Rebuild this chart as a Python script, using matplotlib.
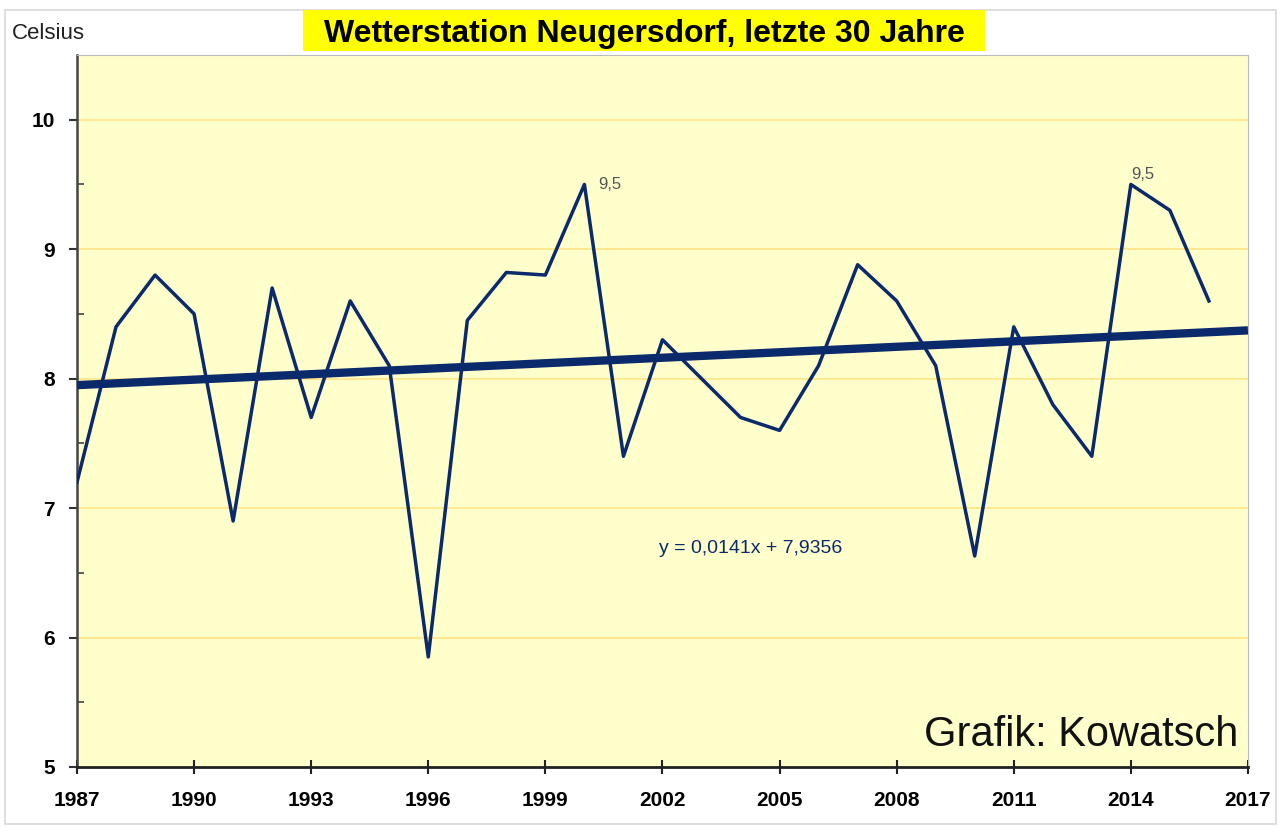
import matplotlib.pyplot as plt
import numpy as np
from matplotlib.patches import Rectangle

# Jahresmittel Neugersdorf
years = np.arange(1987, 2017)
temps = [7.2, 8.4, 8.8, 8.5, 6.9, 8.7, 7.7, 8.6, 8.1, 5.85,
         8.45, 8.82, 8.8, 9.5, 7.4, 8.3, 8.0, 7.7, 7.6, 8.1,
         8.88, 8.6, 8.1, 6.63, 8.4, 7.8, 7.4, 9.5, 9.3, 8.6]
trend_slope = 0.0141
trend_icept = 7.9356
x_ticks = np.arange(1987, 2018, 3)
y_ticks = [5, 6, 7, 8, 9, 10]
peak_labels = [(2000, 9.5, '9,5'), (2014, 9.5, '9,5')]

navy = '#0b2a6b'
plt.rcParams['font.family'] = ['Liberation Sans', 'DejaVu Sans']

fig = plt.figure(figsize=(12.81, 8.27), dpi=100)
ax = fig.add_axes([0.0601, 0.0726, 0.9141, 0.8609])
ax.set_facecolor('#ffffcc')

# Rahmen um die ganze Grafik
fig.patches.append(Rectangle((0.004, 0.004), 0.992, 0.984, transform=fig.transFigure,
                             fill=False, edgecolor='#d8d8d8', linewidth=1.2))
# gelber Titelkasten
fig.patches.append(Rectangle((0.2365, 0.9385), 0.5324, 0.0494, transform=fig.transFigure,
                             facecolor='#ffff00', edgecolor='none'))

for yv in y_ticks[1:]:
    ax.axhline(yv, color='#ffe68a', linewidth=1.3, zorder=1)

# Trendlinie
tx = np.array([1987, 2017])
ty = trend_icept + trend_slope * (tx - 1986)
ax.plot(tx, ty, color=navy, linewidth=6, solid_capstyle='butt', zorder=3)

ax.plot(years, temps, color=navy, linewidth=2.5, zorder=4)

ax.text(2000.35, 9.5, peak_labels[0][2], color='#555555', fontsize=12,
        ha='left', va='center')
ax.text(2014.0, 9.52, peak_labels[1][2], color='#555555', fontsize=12,
        ha='left', va='bottom')

ax.text(2004.25, 6.69, 'y = 0,0141x + 7,9356', color=navy, fontsize=14,
        ha='center', va='center')
ax.text(2016.75, 5.25, 'Grafik: Kowatsch', color='#111111', fontsize=30,
        ha='right', va='center')

ax.set_xlim(1987, 2017)
ax.set_ylim(5, 10.5)
ax.set_xticks(x_ticks)
ax.set_yticks(y_ticks)
ax.set_yticks(np.arange(5.5, 10.5, 1.0), minor=True)
ax.tick_params(axis='x', which='major', direction='inout', length=10,
               width=1.5, labelsize=15, color='#222222', pad=12)
ax.tick_params(axis='y', which='major', direction='out', length=6,
               width=1.5, labelsize=15, color='#333333', pad=10)
ax.tick_params(axis='y', which='minor', direction='in', length=5, width=1.2,
               color='#444444')
for lab in ax.get_xticklabels() + ax.get_yticklabels():
    lab.set_fontweight('bold')

ax.spines['left'].set_color('#444444')
ax.spines['left'].set_linewidth(1.8)
ax.spines['bottom'].set_color('#222222')
ax.spines['bottom'].set_linewidth(2)
ax.spines['top'].set_color('#bbbbbb')
ax.spines['right'].set_color('#bbbbbb')

fig.text(0.009, 0.96, 'Celsius', fontsize=16, color='#222222', ha='left', va='center')
fig.text(0.5027, 0.959, 'Wetterstation Neugersdorf, letzte 30 Jahre', fontsize=23,
         fontweight='bold', ha='center', va='center')

fig.savefig('out.png', dpi=100)
